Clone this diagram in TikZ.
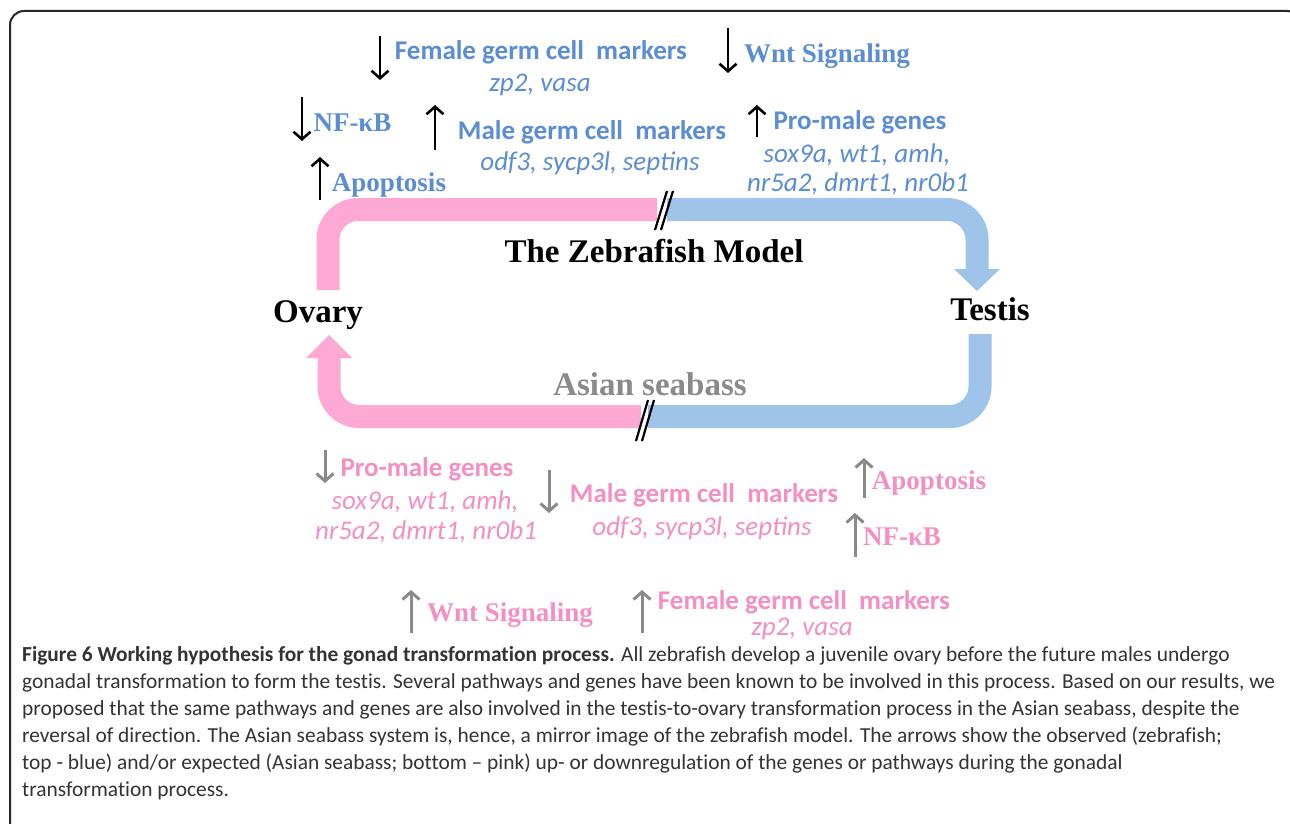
\documentclass[tikz,border=0pt]{standalone}
\usepackage{fontspec}
\setmainfont{Liberation Serif}
\newfontfamily\calfont{Carlito}
\newfontfamily\capfont[Ligatures=NoCommon]{Carlito}
\usetikzlibrary{arrows.meta}
\definecolor{tblue}{HTML}{5B8DD3}
\definecolor{tpink}{HTML}{F48FC4}
\definecolor{bandpink}{HTML}{FDA9D3}
\definecolor{bandblue}{HTML}{9FC3E9}
\definecolor{agray}{HTML}{8A8A8A}
\definecolor{captxt}{HTML}{333333}
\tikzset{
  sanshead/.style={font=\calfont\bfseries\fontsize{27}{30}\selectfont, inner sep=0pt, text height=0.68em, text depth=0.18em, yshift=-7pt},
  genes/.style={font=\calfont\itshape\fontsize{27}{30}\selectfont, inner sep=0pt, text height=0.68em, text depth=0.18em, yshift=-5pt},
  serifhead/.style={font=\bfseries\fontsize{27}{30}\selectfont, inner sep=0pt, text height=0.68em, text depth=0.18em, yshift=-7pt},
  big/.style={font=\bfseries\fontsize{33}{36}\selectfont, inner sep=0pt, text height=0.68em, text depth=0.18em, yshift=-8pt},
  captline/.style={font=\capfont\fontsize{21.4}{24}\selectfont, text=captxt, inner sep=0pt, anchor=base west},
  blkarrow/.style={draw=black, line width=2.6pt, -{Straight Barb[length=7.5pt,width=17pt]}},
  grayarrow/.style={draw=agray, line width=3pt, -{Straight Barb[length=7.5pt,width=17pt]}},
  band/.style={line width=23pt, rounded corners=30pt},
  breakmark/.style={draw=black, line width=2.2pt},
}
\begin{document}
\begin{tikzpicture}[x=1pt, y=-1pt]
\useasboundingbox (0,0) rectangle (1290,824);
\clip (0,0) rectangle (1290,824);
\fill[white] (0,0) rectangle (1290,824);
% frame
\draw[line width=2pt, black!85, rounded corners=14pt] (10,850) -- (10,11) -- (1301,11) -- (1301,850);

% cycle bands
\draw[band, bandpink] (328,290) -- (328,209.5) -- (657,209.5);
\draw[band, bandblue] (667,209.5) -- (977,209.5) -- (977,269);
\fill[bandblue] (954,269) -- (1000,269) -- (977,291) -- cycle;
\draw[band, bandblue] (980,334) -- (980,416.5) -- (648,416.5);
\draw[band, bandpink] (641,416.5) -- (329,416.5) -- (329,358);
\fill[bandpink] (306,358) -- (352,358) -- (329,335) -- cycle;
% break marks
\draw[breakmark] (655,230) -- (667,191);
\draw[breakmark] (661,230) -- (673,191);
\draw[breakmark] (636,441) -- (648,400);
\draw[breakmark] (642,441) -- (654,400);

% main labels
\node[big] (zm) at (654,252) {The Zebrafish Model};
\node[big] (ovary) at (318,312) {Ovary};
\node[big] (testis) at (990,310) {Testis};
\node[big, text=agray] (asb) at (650,385) {Asian seabass};

% top (zebrafish, blue)
\node[sanshead, text=tblue] (fgm) at (541,50) {Female germ cell~ markers};
\node[genes, text=tblue] (fgmg) at (540,84) {zp2, vasa};
\coordinate (fa1) at (380,36); \coordinate (fa2) at (380,80);
\draw[blkarrow] (fa1) -- (fa2);

\node[serifhead, text=tblue] (wnt) at (827,53) {Wnt Signaling};
\coordinate (wa1) at (728,28); \coordinate (wa2) at (728,73);
\draw[blkarrow] (wa1) -- (wa2);

\node[serifhead, text=tblue] (nfkb) at (352.5,122) {NF-κB};
\coordinate (na1) at (302,97); \coordinate (na2) at (302,141);
\draw[blkarrow] (na1) -- (na2);

\node[sanshead, text=tblue] (mgm) at (592,130) {Male germ cell~ markers};
\node[genes, text=tblue] (mgmg) at (590,163) {odf3, sycp3l, septins};
\coordinate (ma1) at (435,150); \coordinate (ma2) at (435,105);
\draw[blkarrow] (ma1) -- (ma2);

\node[sanshead, text=tblue] (pmg) at (860,120) {Pro-male genes};
\node[genes, text=tblue] (pmg1) at (857,155) {sox9a, wt1, amh,};
\node[genes, text=tblue] (pmg2) at (858,184) {nr5a2, dmrt1, nr0b1};
\coordinate (pa1) at (757,137); \coordinate (pa2) at (757,105);
\draw[blkarrow] (pa1) -- (pa2);

\node[serifhead, text=tblue] (apo) at (389,182) {Apoptosis};
\coordinate (aa1) at (320,200); \coordinate (aa2) at (320,157);
\draw[blkarrow] (aa1) -- (aa2);

% bottom (Asian seabass, pink)
\node[sanshead, text=tpink] (bpmg) at (427,467) {Pro-male genes};
\node[genes, text=tpink] (bpmg1) at (425,502) {sox9a, wt1, amh,};
\node[genes, text=tpink] (bpmg2) at (426,532) {nr5a2, dmrt1, nr0b1};
\coordinate (bpa1) at (325,450); \coordinate (bpa2) at (325,483);
\draw[grayarrow] (bpa1) -- (bpa2);

\node[sanshead, text=tpink] (bmgm) at (704,493) {Male germ cell~ markers};
\node[genes, text=tpink] (bmgmg) at (702,528) {odf3, sycp3l, septins};
\coordinate (bma1) at (549,470); \coordinate (bma2) at (549,513);
\draw[grayarrow] (bma1) -- (bma2);

\node[serifhead, text=tpink] (bapo) at (929,480) {Apoptosis};
\coordinate (baa1) at (864,498); \coordinate (baa2) at (864,458);
\draw[grayarrow] (baa1) -- (baa2);

\node[serifhead, text=tpink] (bnfkb) at (902,536) {NF-κB};
\coordinate (bna1) at (855,557); \coordinate (bna2) at (855,513);
\draw[grayarrow] (bna1) -- (bna2);

\node[serifhead, text=tpink] (bwnt) at (510,612) {Wnt Signaling};
\coordinate (bwa1) at (411,633); \coordinate (bwa2) at (411,590);
\draw[grayarrow] (bwa1) -- (bwa2);

\node[sanshead, text=tpink] (bfgm) at (804,600) {Female germ cell~ markers};
\node[genes, text=tpink] (bfgmg) at (802,628) {zp2, vasa};
\coordinate (bfa1) at (642,633); \coordinate (bfa2) at (642,590);
\draw[grayarrow] (bfa1) -- (bfa2);

% caption
\node[captline] (c1) at (22,661) {\textbf{Figure 6 Working hypothesis for the gonad transformation process.} All zebrafish develop a juvenile ovary before the future males undergo};
\node[captline] (c2) at (22,688) {gonadal transformation to form the testis. Several pathways and genes have been known to be involved in this process. Based on our results, we};
\node[captline] (c3) at (22,715) {proposed that the same pathways and genes are also involved in the testis-to-ovary transformation process in the Asian seabass, despite the};
\node[captline] (c4) at (22,742) {reversal of direction. The Asian seabass system is, hence, a mirror image of the zebrafish model. The arrows show the observed (zebrafish;};
\node[captline] (c5) at (22,769) {top - blue) and/or expected (Asian seabass; bottom – pink) up- or downregulation of the genes or pathways during the gonadal};
\node[captline] (c6) at (22,796) {transformation process.};
\end{tikzpicture}
\end{document}
